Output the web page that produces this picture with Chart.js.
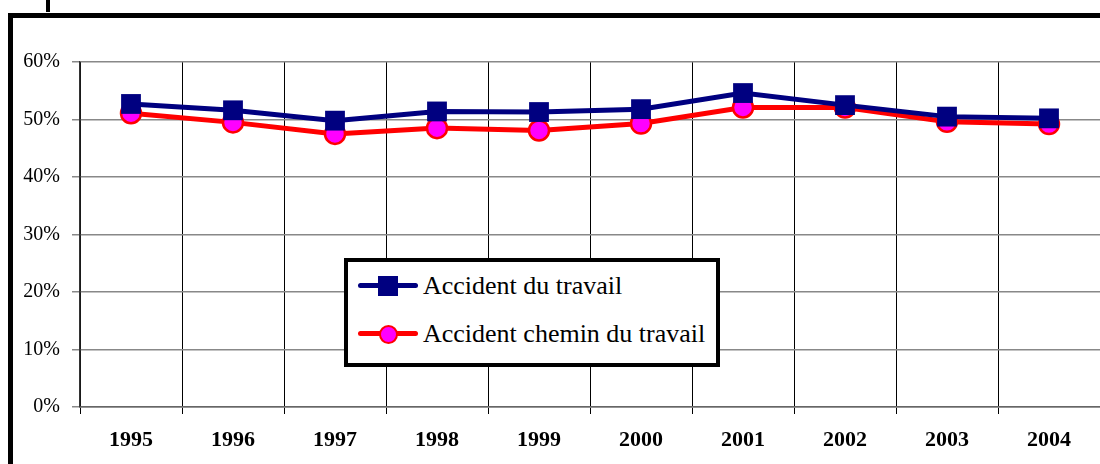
<!DOCTYPE html>
<html>
<head>
<meta charset="utf-8">
<script src="https://cdn.jsdelivr.net/npm/chart.js@4"></script>
<style>
  html, body { margin: 0; padding: 0; background: #fff; }
  #wrap { position: relative; width: 1100px; height: 464px; overflow: hidden; }
  #frame { position: absolute; left: 8px; top: 13px; width: 1200px; height: 600px; border: 5px solid #000; box-sizing: border-box; }
  #mark { position: absolute; left: 46px; top: 0; width: 4px; height: 12px; background: #000; }
  #chart { position: absolute; left: 0; top: 0; }
  #legend { position: absolute; left: 344px; top: 258px; width: 376px; height: 109px; box-sizing: border-box;
            border: 4px solid #000; background: #fff; font-family: "Liberation Serif", serif; font-size: 26px; }
  .row { position: absolute; left: 10px; height: 30px; display: flex; align-items: center; }
  .sample { position: relative; width: 60px; height: 30px; margin-right: 5px; }
  .sample .ln { position: absolute; left: 0; right: 0; top: 12px; height: 5px; border-radius: 3px; }
  .sample .mk { position: absolute; box-sizing: border-box; }
</style>
</head>
<body>
<div id="wrap">
  <div id="mark"></div>
  <div id="frame"></div>
  <canvas id="chart" width="1114" height="464"></canvas>
  <div id="legend"></div>
</div>
<script>
const years = ["1995", "1996", "1997", "1998", "1999", "2000", "2001", "2002", "2003", "2004"];
const travail = [0.527, 0.516, 0.498, 0.514, 0.513, 0.518, 0.546, 0.525, 0.505, 0.502];
const chemin = [0.511, 0.495, 0.475, 0.485, 0.481, 0.493, 0.521, 0.521, 0.496, 0.492];
const seriesNames = ["Accident du travail", "Accident chemin du travail"];

const serif = "'Liberation Serif', 'Times New Roman', serif";

const ctx = document.getElementById("chart").getContext("2d");
const chart = new Chart(ctx, {
    type: "line",
    data: {
        labels: years,
        datasets: [
            {
                label: seriesNames[0],
                data: travail,
                borderColor: "#000080",
                backgroundColor: "#000080",
                borderWidth: 5,
                pointStyle: "rect",
                pointRadius: 14,
                pointBorderWidth: 0,
                tension: 0,
            },
            {
                label: seriesNames[1],
                data: chemin,
                borderColor: "#ff0000",
                backgroundColor: "#ff00ff",
                borderWidth: 5,
                pointStyle: "circle",
                pointRadius: 10,
                pointBorderWidth: 2.5,
                pointBorderColor: "#ff0000",
                tension: 0,
            },
        ],
    },
    options: {
        responsive: false,
        animation: false,
        layout: { padding: { top: 62, right: 1, left: 0, bottom: 0 } },
        plugins: { legend: { display: false }, tooltip: { enabled: false } },
        scales: {
            x: {
                offset: true,
                grid: {
                    offset: true,
                    color: (c) => (c.index < years.length ? "#000" : "#888"),
                    lineWidth: 1,
                    tickLength: 7,
                },
                border: { color: "#666", width: 1.5 },
                ticks: {
                    color: "#000",
                    padding: 13,
                    maxRotation: 0,
                    font: { family: serif, size: 22, weight: "bold" },
                },
                afterFit: (scale) => { scale.height = 57; },
            },
            y: {
                min: 0,
                max: 0.6,
                grid: { color: "#888", lineWidth: 1.5, tickLength: 8 },
                border: { color: "#333", width: 1.5 },
                ticks: {
                    stepSize: 0.1,
                    color: "#000",
                    padding: 12,
                    font: { family: serif, size: 20 },
                    callback: (v) => Math.round(v * 100) + "%",
                },
                afterFit: (scale) => { scale.width = 80; },
            },
        },
    },
});

// HTML legend built from the datasets
const legend = document.getElementById("legend");
chart.data.datasets.forEach((ds, i) => {
    const row = document.createElement("div");
    row.className = "row";
    row.style.top = (i === 0 ? 9 : 57) + "px";
    const sample = document.createElement("div");
    sample.className = "sample";
    const ln = document.createElement("div");
    ln.className = "ln";
    ln.style.background = ds.borderColor;
    const mk = document.createElement("div");
    mk.className = "mk";
    if (ds.pointStyle === "rect") {
        Object.assign(mk.style, { left: "20px", top: "5px", width: "20px", height: "20px", background: ds.backgroundColor });
    } else {
        Object.assign(mk.style, { left: "21px", top: "6px", width: "19px", height: "19px", borderRadius: "50%",
            background: ds.backgroundColor, border: "2.5px solid " + ds.pointBorderColor });
    }
    sample.appendChild(ln);
    sample.appendChild(mk);
    const txt = document.createElement("span");
    txt.textContent = ds.label;
    row.appendChild(sample);
    row.appendChild(txt);
    legend.appendChild(row);
});
</script>
</body>
</html>
